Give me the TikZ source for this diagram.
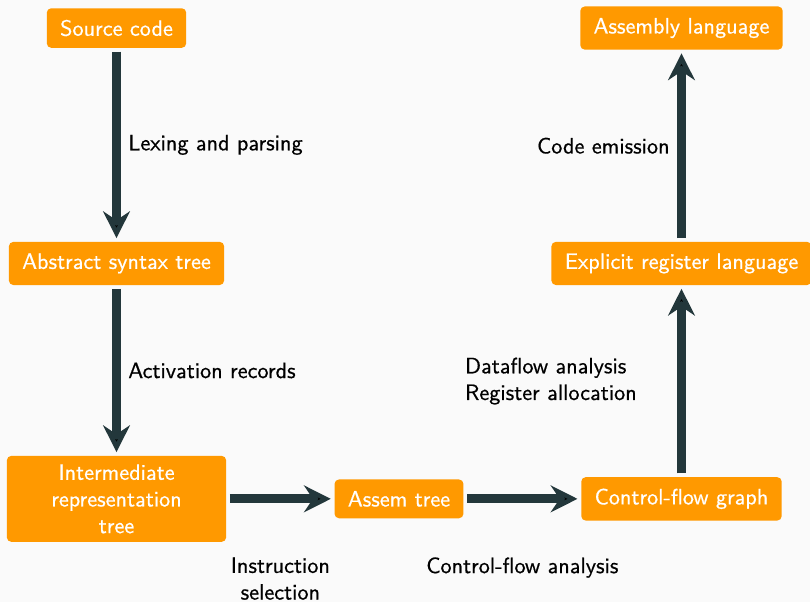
\documentclass[tikz,border=0pt]{standalone}
\usepackage{fontspec}
\setsansfont{Latin Modern Sans}[FakeBold=0.6]
\usepackage{tikz}
\usetikzlibrary{arrows.meta, positioning}

\definecolor{stageorange}{HTML}{FF9900}
\definecolor{flowteal}{HTML}{23373B}
\definecolor{slidebg}{HTML}{FAFAFA}

\begin{document}
\begin{tikzpicture}[
            > = {Stealth[length=12pt, width=12pt, inset=4pt]}, % arrow head style
            shorten > = 1.5pt, % don't touch arrow head to node
            shorten < = 1.5pt,
            auto,
            node distance = 3.72cm, % distance between stages
            font = \sffamily
        ]

        \tikzstyle{stage}=[
            fill = stageorange,
            text = white,
            rounded corners = 2pt,
            inner xsep = 6pt,
            inner ysep = 5.2pt
        ]

        \tikzstyle{flow}=[
            ->,
            draw = flowteal,
            line width = 4pt
        ]

        % slide background
        \fill[slidebg, use as bounding box] (-1.841,0.443) rectangle (10.959,-9.071);

        \node[stage] (src) {Source code};
        \node[stage] (ast) [below of=src] {Abstract syntax tree};
        \node[stage, text width=86pt, minimum width=98.6pt, align=center, inner ysep=3.8pt] (ir) [below of=ast] {Intermediate\\representation\\tree};
        \node[stage] (assem) [right of=ir, node distance=4.464cm] {Assem tree};
        \node[stage] (cfg) [right of=assem, node distance=4.464cm] {Control-flow graph};
        \node[stage] (erl) [above of=cfg] {Explicit register language};
        \node[stage] (asm) [above of=erl] {Assembly language};

        \path[flow] (src) edge node {Lexing and parsing} (ast);
        \path[flow] (ast) edge node {Activation records} (ir);
        \path[flow] (ir) edge node[below=21pt, align=center] {Instruction\\selection} (assem);
        \path[flow] (assem) edge node[below=21pt, align=center] {Control-flow analysis} (cfg);
        \path[flow] (cfg) edge node[text width=92pt, align=left] {Dataflow analysis\\Register allocation} (erl);
        \path[flow] (erl) edge node {Code emission} (asm);

  \end{tikzpicture}
\end{document}
